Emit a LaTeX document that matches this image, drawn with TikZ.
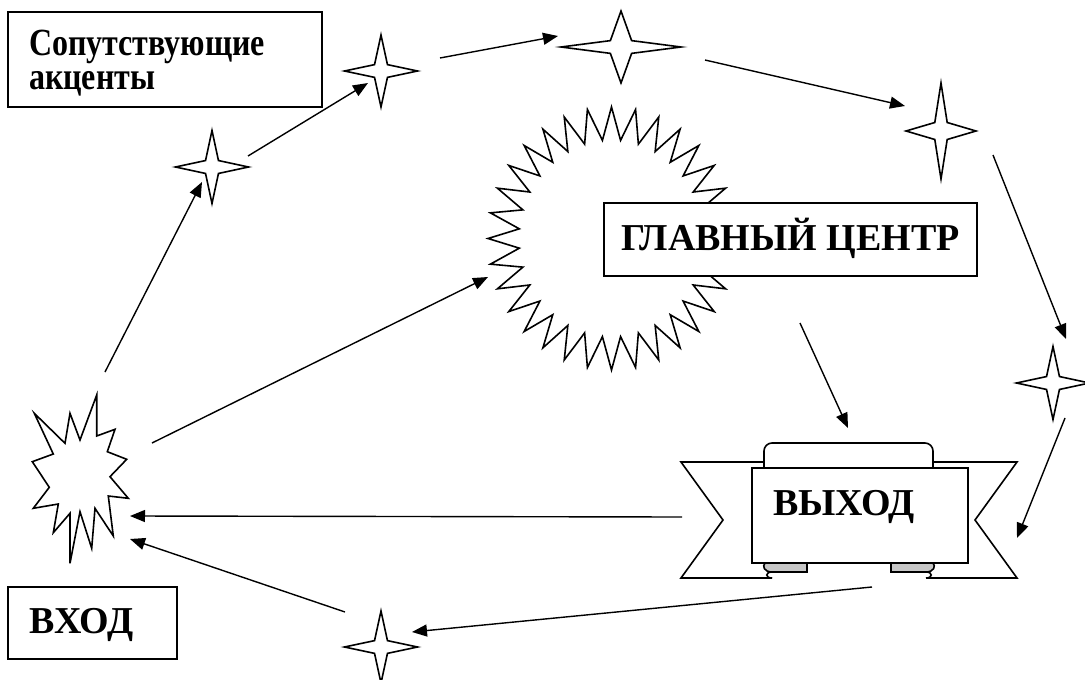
\documentclass[tikz,border=0pt]{standalone}
\usepackage{fontspec}
\setmainfont{Liberation Serif}
\usetikzlibrary{arrows.meta}
\definecolor{foldgray}{gray}{0.78}
\tikzset{
  shapeline/.style={line width=1.6pt, line join=miter},
  box/.style={draw, line width=1.6pt, fill=white, inner sep=0pt, font=\bfseries\fontsize{38}{35}\selectfont},
  arr/.style={line width=1.4pt, -{Triangle[length=15pt,width=12pt]}}
}
\newcommand\tallword[1]{\scalebox{1}[1.2]{#1}}
\begin{document}
\begin{tikzpicture}[x=1pt,y=-1pt]
\useasboundingbox (0,0) rectangle (1085,680);
% Draw the four pointed stars
% Name them s1, s2, etc.
\foreach \nm/\x/\y/\w/\h in {s1/212/167/36.5/36.5, s2/381/71/36.5/36, s3/621/47/60/36, s4/941/131/35/48, s5/1053/383/36.5/36.5, s6/381/647/36.5/36}
{
  \coordinate (\nm) at (\x,\y);
  \draw[shapeline] (\x-\w,\y) -- (\x-0.177*\w,\y-0.177*\h) -- (\x,\y-\h) -- (\x+0.177*\w,\y-0.177*\h)
    -- (\x+\w,\y) -- (\x+0.177*\w,\y+0.177*\h) -- (\x,\y+\h) -- (\x-0.177*\w,\y+0.177*\h) -- cycle;
}
% The big seal with 32 points
\coordinate (seal) at (611.5,238.5);
\draw[shapeline, shift={(611.5,238.5)}] (90:123.5 and 131.5)
  \foreach \i in {0,...,31}
  {
    -- ({95.625+\i*11.25}:92.6 and 98.6) -- ({101.25+\i*11.25}:123.5 and 131.5)
  } -- cycle;
% The explosion at the entry
\coordinate (ex) at (80,479);
\draw[shapeline] (96.7,395) -- (96.7,436) -- (115,429.3) -- (107.3,451.7) -- (126.7,459.3) -- (110,476.7)
  -- (128.3,498.3) -- (108.3,496) -- (113.3,536) -- (95,508.3) -- (91.7,548.3) -- (80,511.7)
  -- (70,563.3) -- (70,513.3) -- (53.3,532.7) -- (58.3,504) -- (33.3,508.3) -- (49.3,487.3)
  -- (32.3,461.7) -- (53.3,454) -- (34.3,413.3) -- (65,443.3) -- (70,413.3) -- (80,440) -- cycle;
% The ribbon behind the exit box
\foreach \s in {1,-1}
{
  \begin{scope}[shift={(849,0)}, xscale=\s]
    \draw[shapeline] (-85,462) -- (-168,462) -- (-126,520) -- (-168,578) -- (-77,578);
    \draw[shapeline, fill=foldgray] (-42,563) -- (-42,572) -- (-77,572) .. controls (-85,572) and (-87,566) .. (-84,563) -- cycle;
    \draw[shapeline] (-77,572) .. controls (-84,572) and (-84,578) .. (-77,578);
  \end{scope}
}
\draw[shapeline, fill=white, rounded corners=8pt] (764,563) -- (764,443) -- (933,443) -- (933,563);
% The text boxes
\node[box, font=\bfseries\fontsize{32}{35}\selectfont, minimum width=314pt, text width=272pt, inner xsep=21pt, align=left, text height=43pt, text depth=52pt] (acc) at (165,59.5) {\tallword{Сопутствующие}\\\tallword{акценты}};
\node[box, minimum width=373pt, text height=47pt, text depth=26pt] (main) at (790.5,239.5) {ГЛАВНЫЙ ЦЕНТР};
\node[box, text width=125pt, inner xsep=22pt, align=left, text height=46pt, text depth=26pt] (vhod) at (92.5,623) {ВХОД};
\node[box, text width=174pt, inner xsep=21pt, align=left, text height=47pt, text depth=48pt] (out) at (860,515.5) {ВЫХОД};
% Draw the arrows
\draw[arr] ([shift={(25,-107)}]ex) -- ([shift={(-10,15)}]s1);
\draw[arr] ([shift={(36,-11)}]s1) -- ([shift={(-13,12)}]s2);
\draw[arr] ([shift={(59,-13)}]s2) -- ([shift={(-63,-11)}]s3);
\draw[arr] ([shift={(84,13)}]s3) -- ([shift={(-36,-25)}]s4);
\draw[arr] ([shift={(52,24)}]s4) -- ([shift={(13,-44)}]s5);
\draw[arr] ([shift={(12,35)}]s5) -- ([shift={(157,22.5)}]out.center);
\draw[arr] ([shift={(12,71.5)}]out.center) -- ([shift={(31,-15)}]s6);
\draw[arr] ([shift={(-178,1.5)}]out.center) -- ([shift={(50,37)}]ex);
\draw[arr] ([shift={(-36,-35)}]s6) -- ([shift={(50,60)}]ex);
\draw[arr] ([shift={(72,-36)}]ex) -- ([shift={(-123.5,38.5)}]seal);
\draw[arr] ([shift={(9.5,83.5)}]main.center) -- ([shift={(-12,-87.5)}]out.center);
\end{tikzpicture}
\end{document}
